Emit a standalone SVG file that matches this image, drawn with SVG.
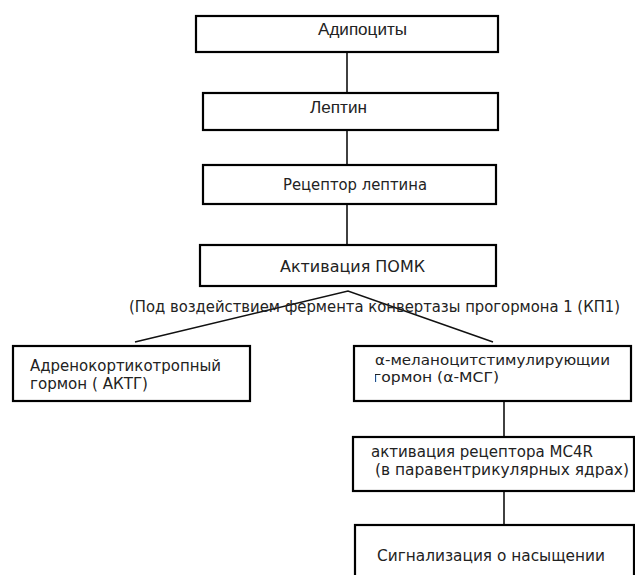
<svg xmlns="http://www.w3.org/2000/svg" width="635" height="575" viewBox="0 0 635 575">
<style>
.box{fill:#fff;stroke:#000;stroke-width:2.2}
.ln{stroke:#111;stroke-width:1.6;fill:none}
.c{font-family:"Liberation Sans",Arial,sans-serif;font-size:16px;fill:#222}
.v{font-family:"DejaVu Sans",Verdana,sans-serif;font-size:15px;fill:#222}
.s{font-size:14px}
</style>
<defs>
<clipPath id="clipR"><rect x="375" y="357" width="260" height="40"/></clipPath>
</defs>
<rect width="635" height="575" fill="#fff"/>
<g id="connectors">
<line class="ln" x1="347" y1="52" x2="347" y2="93"/>
<line class="ln" x1="347" y1="130" x2="347" y2="165"/>
<line class="ln" x1="347" y1="204" x2="347" y2="245"/>
<polyline class="ln" points="135,342 348,291 493,342"/>
<line class="ln" x1="504" y1="401" x2="504" y2="437"/>
<line class="ln" x1="504" y1="491" x2="504" y2="525"/>
</g>
<g id="adipocytes">
<rect class="box" x="196" y="16" width="302" height="36"/>
<text class="c" x="318" y="35" textLength="89" lengthAdjust="spacingAndGlyphs">Адипоциты</text>
</g>
<g id="leptin">
<rect class="box" x="203" y="93" width="295" height="37"/>
<text class="c" x="310" y="113" textLength="57" lengthAdjust="spacingAndGlyphs">Лептин</text>
</g>
<g id="receptor">
<rect class="box" x="203" y="165" width="293" height="39"/>
<text class="v" x="283" y="190" textLength="144" lengthAdjust="spacingAndGlyphs">Рецептор лептина</text>
</g>
<g id="pomc">
<rect class="box" x="200" y="245" width="296" height="41"/>
<text class="v" x="280" y="272" textLength="145" lengthAdjust="spacingAndGlyphs">Активация ПОМК</text>
</g>
<g id="note">
<text class="v" x="129" y="312" textLength="491" lengthAdjust="spacingAndGlyphs">(Под воздействием фермента конвертазы прогормона 1 (КП1)</text>
</g>
<g id="acth">
<rect class="box" x="13" y="346" width="237" height="55"/>
<text class="v" x="30" y="371" textLength="191" lengthAdjust="spacingAndGlyphs">Адренокортикотропный</text>
<text class="v" x="30" y="389" textLength="118" lengthAdjust="spacingAndGlyphs">гормон ( АКТГ)</text>
</g>
<g id="amsh">
<rect class="box" x="354" y="346" width="277" height="55"/>
<g clip-path="url(#clipR)">
<text class="v s" x="375" y="365" textLength="235" lengthAdjust="spacingAndGlyphs">α-меланоцитстимулирующий</text>
<text class="v s" x="373" y="382" textLength="126" lengthAdjust="spacingAndGlyphs">гормон (α-МСГ)</text>
</g>
</g>
<g id="mc4r">
<rect class="box" x="353" y="437" width="281" height="54"/>
<text class="v" x="371" y="457" textLength="222" lengthAdjust="spacingAndGlyphs">активация рецептора MC4R</text>
<text class="v" x="375" y="475" textLength="254" lengthAdjust="spacingAndGlyphs">(в паравентрикулярных ядрах)</text>
</g>
<g id="satiety">
<rect class="box" x="355" y="525" width="279" height="60"/>
<text class="v" x="377" y="561" textLength="228" lengthAdjust="spacingAndGlyphs">Сигнализация о насыщении</text>
</g>
</svg>
